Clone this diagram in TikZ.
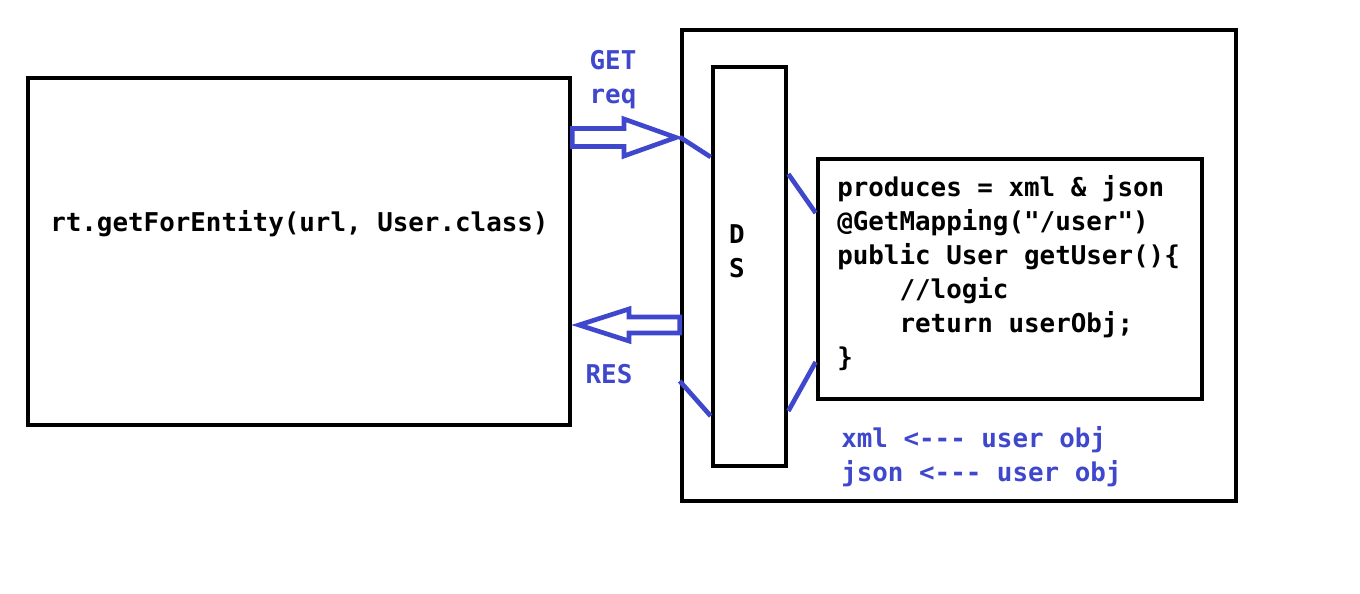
\documentclass[tikz,border=0pt]{standalone}
\usepackage{fontspec}
\setmonofont{DejaVu Sans Mono}
\usetikzlibrary{fit}
\definecolor{paintblue}{RGB}{63,72,204}
\tikzset{
  box/.style={draw, line width=3.5pt, inner sep=0pt},
  codetext/.style={font=\ttfamily\bfseries\fontsize{19.4}{25.5}\selectfont, inner sep=0pt},
  bluetext/.style={codetext, text=paintblue},
  wire/.style={draw=paintblue, line width=3.5pt},
  hollowarrow/.style={draw=paintblue, line width=3.5pt, fill=white}
}
\begin{document}
\begin{tikzpicture}[x=0.75pt, y=-0.75pt]
\useasboundingbox (0,0) rectangle (1360,593);
% boxes
\node[box, fit={(28,78) (570,425)}] (client) {};
\node[box, fit={(682,30) (1236,501)}] (server) {};
\node[box, fit={(713,67) (786,466)}] (ds) {};
\node[box, fit={(818,159) (1202,399)}] (handler) {};
% texts
\node[codetext, anchor=base west] (call) at (50,231) {rt.getForEntity(url, User.class)};
\node[codetext, anchor=base, align=center] (dslabel) at (737,277) {D\\S};
\node[codetext, anchor=base west, align=left] (code) at (837,366) {produces = xml \& json\\
@GetMapping("/user")\\
public User getUser()\{\\
\phantom{0000}//logic\\
\phantom{0000}return userObj;\\
\}};
\node[bluetext, anchor=base, align=center] (getreq) at (613,103) {GET\\req};
\node[bluetext, anchor=base] (res) at (609,383) {RES};
\node[bluetext, anchor=base west, align=left] (formats) at (841,481) {xml <--- user obj\\json <--- user obj};
% request and response
\draw[hollowarrow] (client.east |- 0,128.5) -- (624,128.5) -- (624,119) -- (676,137.5)
  -- (624,156) -- (624,146.5) -- (client.east |- 0,146.5) -- cycle;
\draw[hollowarrow] (server.west |- 0,317) -- (629,317) -- (629,309) -- (579,325)
  -- (629,341) -- (629,333) -- (server.west |- 0,333) -- cycle;
% links
\draw[wire] (server.west |- 0,137) -- (ds.west |- 0,157);
\draw[wire] (ds.east |- 0,174) -- (handler.west |- 0,213);
\draw[wire] (server.west |- 0,381) -- (ds.west |- 0,416);
\draw[wire] (ds.east |- 0,411) -- (handler.west |- 0,362);
\end{tikzpicture}
\end{document}
